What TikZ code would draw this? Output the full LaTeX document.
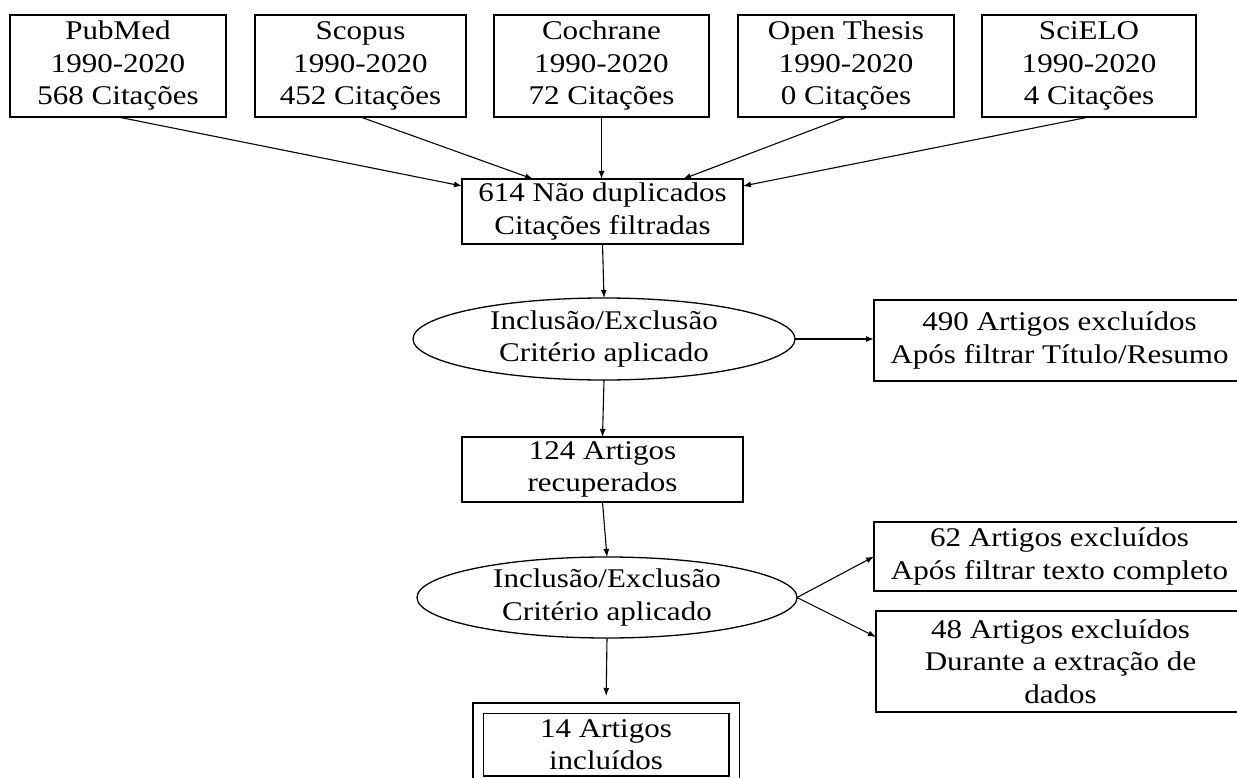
\documentclass[tikz,border=0pt]{standalone}
\usepackage{fontspec}
\setmainfont{Liberation Serif}[FakeStretch=1.15]
\usetikzlibrary{arrows.meta,shapes.geometric}
\begin{document}
\begin{tikzpicture}[x=1pt,y=-1pt,
  every node/.style={font=\fontsize{27}{32.5}\selectfont, align=center, inner sep=0pt, outer sep=0pt},
  box/.style={draw, line width=1.3pt, rectangle},
  oval/.style={draw, line width=1.3pt, ellipse},
  arr/.style={-{Latex[length=8pt,width=6pt]}, line width=1.1pt}]
\useasboundingbox (0,0) rectangle (1237,778);
\clip (0,0) rectangle (1237,778);
% sources
\node[box, minimum width=216pt, minimum height=102pt] (pub) at (118,66) {PubMed\\1990-2020\\568 Citações};
\node[box, minimum width=211pt, minimum height=102pt] (sco) at (360.5,66) {Scopus\\1990-2020\\452 Citações};
\node[box, minimum width=215pt, minimum height=102pt] (coc) at (601.5,66) {Cochrane\\1990-2020\\72 Citações};
\node[box, minimum width=216pt, minimum height=102pt] (ope) at (846,66) {Open Thesis\\1990-2020\\0 Citações};
\node[box, minimum width=214pt, minimum height=102pt] (sci) at (1089,66) {SciELO\\1990-2020\\4 Citações};
% main flow
\node[box, minimum width=281pt, minimum height=65pt] (dup) at (602.5,211.5) {614 Não duplicados\\Citações filtradas};
\node[oval, minimum width=382pt, minimum height=82pt] (inc1) at (604,339) {Inclusão/Exclusão\\Critério aplicado};
\node[box, minimum width=371pt, minimum height=81pt] (exc1) at (1059.5,340.5) {490 Artigos excluídos\\Após filtrar Título/Resumo};
\node[box, minimum width=281pt, minimum height=65pt] (rec) at (602.5,469.5) {124 Artigos\\recuperados};
\node[oval, minimum width=380pt, minimum height=81pt] (inc2) at (607,597.5) {Inclusão/Exclusão\\Critério aplicado};
\node[box, minimum width=371pt, minimum height=69pt] (exc2) at (1059.5,556.5) {62 Artigos excluídos\\Após filtrar texto completo};
\node[box, minimum width=369pt, minimum height=101pt] (exc3) at (1060.5,661.5) {48 Artigos excluídos\\Durante a extração de\\dados};
\node[draw, double, double distance=9pt, line width=1.3pt, minimum width=256pt, minimum height=73pt] (fin) at (606,744.5) {14 Artigos\\incluídos};
% end points
\coordinate (dupL) at ([yshift=-7pt]dup.north west);
\coordinate (dupS) at ([xshift=-69.5pt]dup.north);
\coordinate (dupO) at ([xshift=80.5pt]dup.north);
\coordinate (dupR) at ([yshift=-7pt]dup.north east);
\coordinate (ex3in) at ([yshift=-26pt]exc3.north west);
% connectors
\draw[arr] (pub.south) -- (dupL);
\draw[arr] (sco.south) -- (dupS);
\draw[arr] (coc.south) -- (coc.south |- dup.north);
\draw[arr] (ope.south) -- (dupO);
\draw[arr] (sci.south) -- (dupR);
\draw[arr] (dup.south) -- (inc1.north);
\draw[arr] (inc1.east) -- (exc1.west |- inc1.east);
\draw[arr] (inc1.south) -- (rec.north);
\draw[arr] (rec.south) -- (inc2.north);
\draw[arr] (inc2.east) -- (exc2.west);
\draw[arr] (inc2.east) -- (ex3in);
\draw[arr, shorten >=12pt] (inc2.south) -- (fin.north);
\end{tikzpicture}
\end{document}
